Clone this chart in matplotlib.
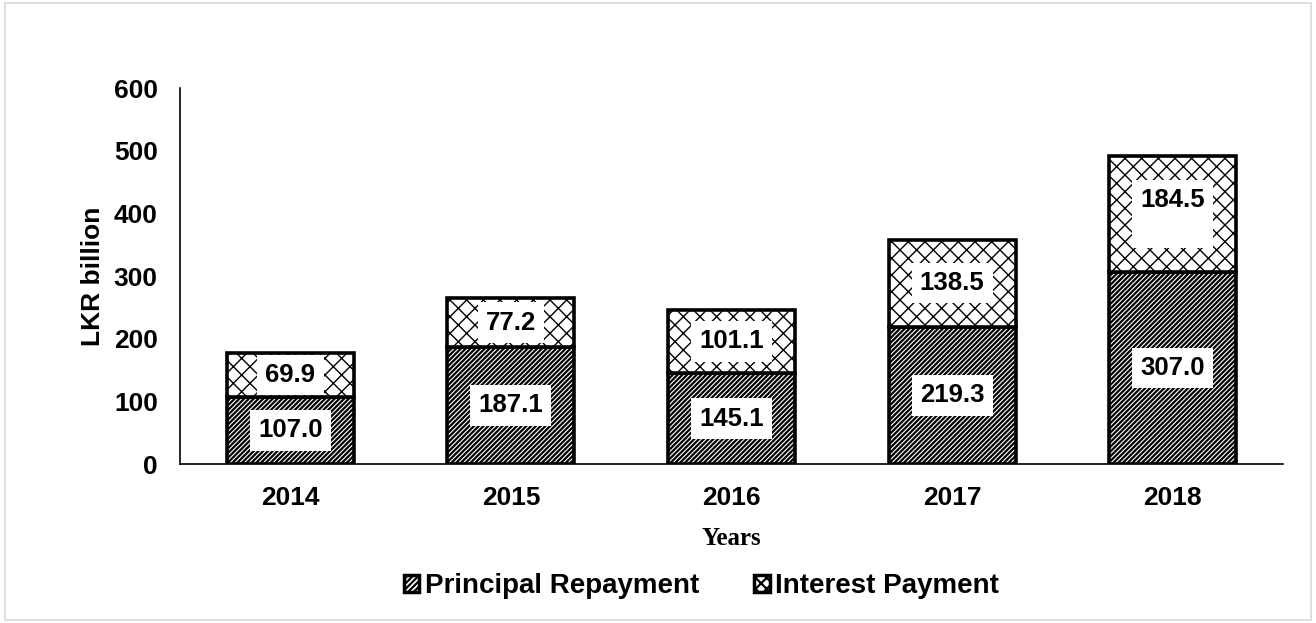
import matplotlib.pyplot as plt
import matplotlib.patches as mpatches

years = ["2014", "2015", "2016", "2017", "2018"]
principal = [107.0, 187.1, 145.1, 219.3, 307.0]
interest = [69.9, 77.2, 101.1, 138.5, 184.5]

plt.rcParams['font.family'] = ['Liberation Sans', 'DejaVu Sans']
plt.rcParams['font.weight'] = 'bold'
plt.rcParams['hatch.linewidth'] = 1.6

fig = plt.figure(figsize=(13.16, 6.23), dpi=100)
ax = fig.add_axes([180 / 1316, 1 - 464 / 623, 1103 / 1316, 376 / 623])

x = range(len(years))
width = 0.575
b1 = ax.bar(x, principal, width, color='white', edgecolor='black', hatch='///////', linewidth=2.6)
b2 = ax.bar(x, interest, width, bottom=principal, color='white', edgecolor='black', hatch='xx', linewidth=2.6)
for p in b2:
    if hasattr(p, 'set_hatch_linewidth'):
        p.set_hatch_linewidth(1.0)

box = dict(facecolor='white', edgecolor='none', pad=6)
for i in x:
    ax.text(i, principal[i] / 2, f"{principal[i]:.1f}", ha='center', va='center',
            fontsize=18.5, fontweight='bold', bbox=box)
    txt = f"{interest[i]:.1f}"
    if i == len(years) - 1:
        txt += "\n "
    ax.text(i, principal[i] + interest[i] / 2, txt, ha='center', va='center',
            fontsize=18.5, fontweight='bold', bbox=box)

ax.set_xlim(-0.5, len(years) - 0.5)
ax.set_ylim(0, 600)
ax.set_yticks(range(0, 601, 100))
ax.set_xticks(list(x))
ax.set_xticklabels(years)
ax.tick_params(length=0, labelsize=19, pad=16)
for lbl in ax.get_xticklabels() + ax.get_yticklabels():
    lbl.set_fontweight('bold')
ax.spines['top'].set_visible(False)
ax.spines['right'].set_visible(False)
ax.spines['left'].set_linewidth(1.2)
ax.spines['bottom'].set_linewidth(1.2)

ax.set_ylabel("LKR billion", fontsize=19, fontweight='bold', labelpad=6)
ax.set_xlabel("Years", fontsize=18, fontweight='bold', family='Liberation Serif', labelpad=12)

h1 = mpatches.Patch(facecolor='white', edgecolor='black', hatch='//////', linewidth=2.5)
h2 = mpatches.Patch(facecolor='white', edgecolor='black', hatch='xxx', linewidth=2.5)
fig.legend([h1, h2], ["Principal Repayment", "Interest Payment"], loc='center',
           bbox_to_anchor=(0.533, 1 - 586 / 623), ncol=2, frameon=False,
           prop={'size': 20, 'weight': 'bold'}, handlelength=0.55, handleheight=0.55,
           handletextpad=0.2, columnspacing=2.0)

border = mpatches.Rectangle((0.004, 0.005), 0.992, 0.99, transform=fig.transFigure,
                            fill=False, edgecolor='#d9d9d9', linewidth=1.2)
fig.patches.append(border)

fig.savefig("out.png", dpi=100)
